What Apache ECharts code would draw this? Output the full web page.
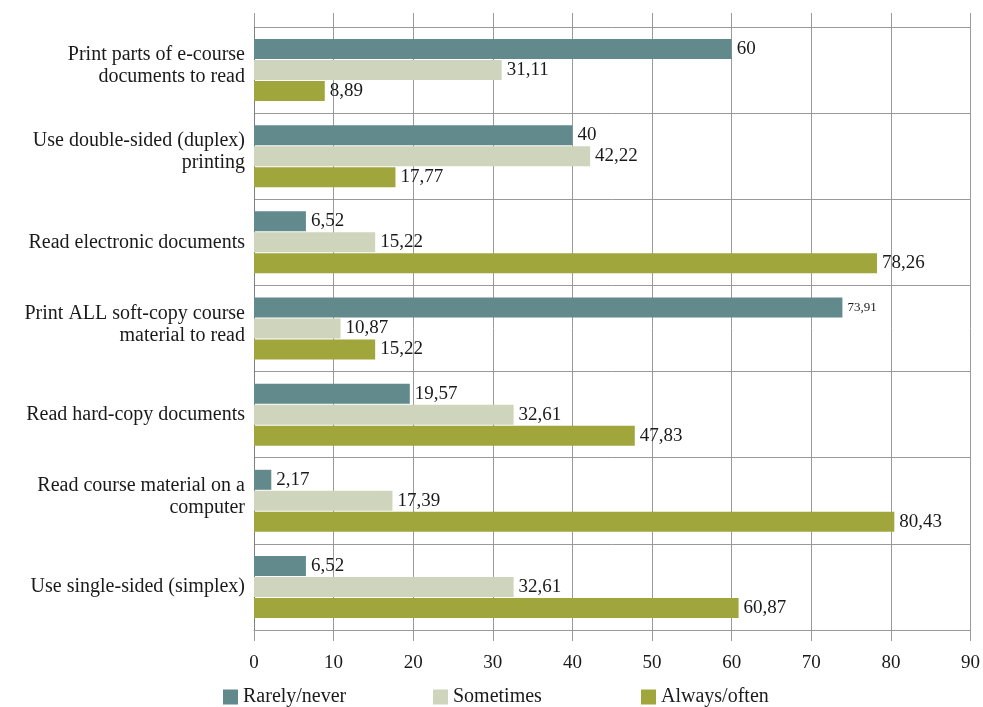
<!DOCTYPE html>
<html>
<head>
<meta charset="utf-8">
<title>index.html</title>
<script src="https://cdn.jsdelivr.net/npm/echarts@6/dist/echarts.min.js"></script>
<style>
  html, body { margin: 0; padding: 0; background: #fff; }
  #main { width: 983px; height: 707px; }
</style>
</head>
<body>
<div id="main"></div>
<script>
// categories, top to bottom
var categories = [
    'Print parts of e-course\ndocuments to read',
    'Use double-sided (duplex)\nprinting',
    'Read electronic documents',
    'Print ALL soft-copy course\nmaterial to read',
    'Read hard-copy documents',
    'Read course material on a\ncomputer',
    'Use single-sided (simplex)'
];
var seriesNames = ['Rarely/never', 'Sometimes', 'Always/often'];
var rarely    = [60, 40, 6.52, 73.91, 19.57, 2.17, 6.52];
var sometimes = [31.11, 42.22, 15.22, 10.87, 32.61, 17.39, 32.61];
var always    = [8.89, 17.77, 78.26, 15.22, 47.83, 80.43, 60.87];
var xTicks = [0, 10, 20, 30, 40, 50, 60, 70, 80, 90];

var colors = ['#62898b', '#cfd4bc', '#a0a63c'];
var font = '"Liberation Serif", "DejaVu Serif", serif';
var gridColor = '#9a9a9a';
var textColor = '#1a1a1a';
var legendLefts = [218, 428, 636];

function fmt(p) {
    return String(p.value).replace('.', ',');
}

function makeSeries(name, values, idx) {
    return {
        name: name,
        type: 'bar',
        data: values.map(function (v, i) {
            // the 73,91 label is printed smaller in the original
            if (idx === 0 && i === 3) {
                return { value: v, label: { fontSize: 13 } };
            }
            return v;
        }),
        barWidth: 20,
        barGap: '5%',
        itemStyle: { color: colors[idx] },
        label: {
            show: true,
            position: 'right',
            distance: 5,
            formatter: fmt,
            color: textColor,
            fontFamily: font,
            fontSize: 19
        },
        silent: true
    };
}

// one legend per series so each entry can sit where the original has it
var legends = seriesNames.map(function (n, i) {
    return {
        left: legendLefts[i],
        top: 682,
        itemWidth: 15,
        itemHeight: 15,
        icon: 'rect',
        textStyle: { fontFamily: font, fontSize: 20, color: textColor },
        data: [n]
    };
});

var myChart = echarts.init(document.getElementById('main'), null, { renderer: 'canvas' });

myChart.setOption({
    animation: false,
    textStyle: { fontFamily: font },
    legend: legends,
    grid: { left: 254, right: 11, top: 27, bottom: 77 },
    xAxis: [{
        type: 'value',
        position: 'bottom',
        min: xTicks[0],
        max: xTicks[xTicks.length - 1],
        interval: 10,
        axisLine: { show: true, lineStyle: { color: gridColor } },
        axisTick: { show: true, length: 11, lineStyle: { color: gridColor } },
        axisLabel: { margin: 24, fontSize: 19, color: textColor, fontFamily: font },
        splitLine: { show: true, lineStyle: { color: gridColor, width: 1 } }
    }, {
        // only draws the short stubs of the gridlines above the plot
        type: 'value',
        position: 'top',
        min: xTicks[0],
        max: xTicks[xTicks.length - 1],
        interval: 10,
        axisLine: { show: false },
        axisTick: { show: true, length: 14, lineStyle: { color: gridColor } },
        axisLabel: { show: false },
        splitLine: { show: false }
    }],
    yAxis: {
        type: 'category',
        inverse: true,
        data: categories,
        axisLine: { show: true, lineStyle: { color: '#808080' } },
        axisTick: { show: false },
        splitLine: { show: true, lineStyle: { color: gridColor, width: 1 } },
        axisLabel: {
            margin: 9,
            fontSize: 20,
            lineHeight: 22,
            color: textColor,
            fontFamily: font,
            align: 'right',
            // two-line labels sit a bit above the band centre in the original
            formatter: function (v) {
                return v.indexOf('\n') >= 0 ? v + '\n{s| }' : v;
            },
            rich: {
                s: { fontSize: 4, lineHeight: 8 }
            }
        }
    },
    series: [
        makeSeries(seriesNames[0], rarely, 0),
        makeSeries(seriesNames[1], sometimes, 1),
        makeSeries(seriesNames[2], always, 2)
    ]
});
</script>
</body>
</html>
